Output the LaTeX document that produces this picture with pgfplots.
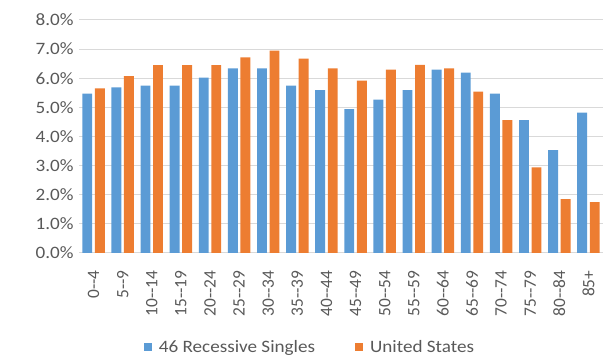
\documentclass[border=0pt]{standalone}
\usepackage{pgfplots}
\pgfplotsset{compat=1.18}
\usepackage{fontspec}
\setmainfont{Carlito}[FakeStretch=1.1]
\newfontfamily\plainfont{Carlito}
\definecolor{exblue}{HTML}{5B9BD5}
\definecolor{exorange}{HTML}{ED7D31}
\definecolor{gridgray}{HTML}{D9D9D9}
\definecolor{txtgray}{HTML}{595959}
\begin{document}
\begin{tikzpicture}
\begin{axis}[
  scale only axis, width=524pt, height=233pt,
  ymin=0, ymax=8, xmin=-0.5, xmax=17.5,
  ybar, bar width=0.34,
  ytick={0,1,...,8},
  yticklabels={0.0\%,1.0\%,2.0\%,3.0\%,4.0\%,5.0\%,6.0\%,7.0\%,8.0\%},
  xtick={0,1,...,17},
  xticklabels={0--4,5--9,10--14,15--19,20--24,25--29,30--34,35--39,40--44,45--49,50--54,55--59,60--64,65--69,70--74,75--79,80--84,85+},
  x tick label style={rotate=90, anchor=east, font=\plainfont\fontsize{17.4}{20}\selectfont, text=txtgray, xshift=-14pt},
  y tick label style={font=\fontsize{17.4}{20}\selectfont, text=txtgray, xshift=-2pt},
  major tick length=0pt,
  axis lines*=left,
  y axis line style={draw=none},
  x axis line style={draw=gridgray, line width=1pt, -},
  ymajorgrids, grid style={draw=gridgray, line width=1pt},
  legend columns=2,
  legend style={draw=none, fill=none, at={([xshift=-31pt,yshift=-94pt]axis description cs:0.5,0)}, anchor=center,
    font=\fontsize{17.4}{20}\selectfont, text=txtgray,
    /tikz/every even column/.append style={column sep=38pt}},
  legend image code/.code={\fill[#1] (0pt,-4pt) rectangle (8pt,4pt); \path (13pt,0pt);},
]
\addplot[fill=exblue, draw=none, bar shift=-0.215] coordinates {
(0,5.47) (1,5.69) (2,5.75) (3,5.75) (4,6.02) (5,6.34) (6,6.34) (7,5.75) (8,5.59)
(9,4.94) (10,5.27) (11,5.59) (12,6.30) (13,6.19) (14,5.47) (15,4.56) (16,3.53) (17,4.82)};
\addplot[fill=exorange, draw=none, bar shift=0.215] coordinates {
(0,5.65) (1,6.07) (2,6.45) (3,6.45) (4,6.45) (5,6.72) (6,6.95) (7,6.67) (8,6.34)
(9,5.92) (10,6.30) (11,6.46) (12,6.34) (13,5.54) (14,4.56) (15,2.94) (16,1.85) (17,1.75)};
\legend{46 Recessive Singles, United States}
\end{axis}
\pgfresetboundingbox
\path[use as bounding box] ([xshift=-79pt,yshift=-107pt]current axis.south west) rectangle ([xshift=2pt,yshift=20pt]current axis.north east);
\end{tikzpicture}
\end{document}
